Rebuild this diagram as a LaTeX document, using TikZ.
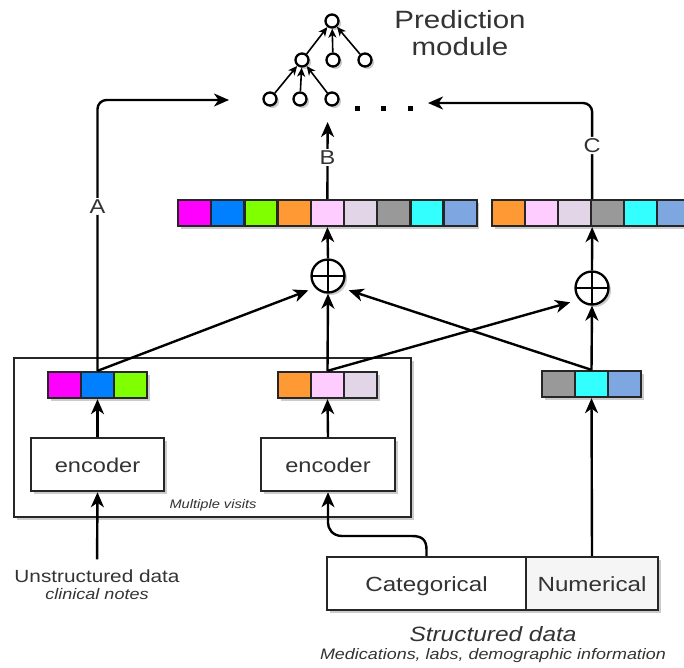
\documentclass[tikz,border=0pt]{standalone}
\usepackage{fontspec}
\setmainfont{Liberation Sans}[FakeStretch=1.18]
\usetikzlibrary{arrows.meta,shadows,calc}
\definecolor{txt}{HTML}{333333}
\definecolor{mag}{HTML}{FF00FF}
\definecolor{blu}{HTML}{007FFF}
\definecolor{grn}{HTML}{80FF00}
\definecolor{org}{HTML}{FF9933}
\definecolor{pnk}{HTML}{FFCCFF}
\definecolor{lav}{HTML}{E1D5E7}
\definecolor{gry}{HTML}{999999}
\definecolor{cyn}{HTML}{33FFFF}
\definecolor{stl}{HTML}{7EA6E0}
\definecolor{numfill}{HTML}{F5F5F5}
\newcommand{\fsz}[1]{\fontsize{#1}{#1}\selectfont}
\begin{document}
\begin{tikzpicture}[x=1pt,y=-1pt]
\useasboundingbox (0,0) rectangle (684,667);
\tikzset{
  shd/.style={general shadow={fill=black, opacity=0.2, shadow xshift=2.5pt, shadow yshift=-2.5pt}},
  cell/.style={draw=black!85, line width=2.3pt, minimum width=33.2pt, minimum height=26pt, inner sep=0pt, shd},
  box/.style={draw=black!85, line width=2.5pt, fill=white, inner sep=0pt, shd, text=txt, text height=15pt, text depth=0pt},
  tc/.style={circle, draw=black, line width=2.3pt, fill=white, minimum size=13pt, inner sep=0pt, shd},
  op/.style={circle, draw=black, line width=2.3pt, minimum size=33pt, inner sep=0pt, fill=white, shd,
    path picture={\draw[line width=2.2pt] (path picture bounding box.north) -- (path picture bounding box.south)
      (path picture bounding box.west) -- (path picture bounding box.east);}},
  arr/.style={-{Stealth[length=15pt,width=13pt,inset=4.5pt]}, line width=2.4pt, draw=black},
  tarr/.style={-{Stealth[length=9pt,width=8pt,inset=2.5pt]}, line width=1.6pt, draw=black},
  lbl/.style={fill=white, inner sep=1.5pt, text=txt, font=\fsz{20}},
  dotsq/.style={fill=black, minimum size=5pt, inner sep=0pt},
  txtn/.style={text=txt, inner sep=1pt, align=center}
}
% Multiple visits frame
\node[box, minimum width=397pt, minimum height=159pt] (mv) at (212.5,437.5) {};
\node[txtn, font=\fsz{12.4}\itshape] (mvl) at (213,505) {Multiple visits};

% Prediction module tree
\node[tc] (r0) at (332,21) {};
\node[tc] (l2a) at (302,60) {};
\node[tc] (l2b) at (333,60) {};
\node[tc] (l2c) at (365,60) {};
\node[tc] (l3a) at (270,99) {};
\node[tc] (l3b) at (300,99) {};
\node[tc] (l3c) at (332,99) {};
\draw[tarr] (l2a) -- (r0);
\draw[tarr] (l2b) -- (r0);
\draw[tarr] (l2c) -- (r0);
\draw[tarr] (l3a) -- (l2a);
\draw[tarr] (l3b) -- (l2a);
\draw[tarr] (l3c) -- (l2a);
\node[dotsq] (d1) at (357,108) {};
\node[dotsq] (d2) at (383,108) {};
\node[dotsq] (d3) at (410,108) {};
\node[txtn, font=\fsz{25}, align=center] (pm) at (460,33) {Prediction\\[2pt]module};
\coordinate (tA) at (229,100);
\coordinate (tB) at (327.6,122);
\coordinate (tC) at (428,103);

% vectors
\foreach \c [count=\i] in {mag,blu,grn,org,pnk,lav,gry,cyn,stl}
  \node[cell, fill=\c] (t\i) at ({178+16.6+33.2*(\i-1)},213) {};
\foreach \c [count=\i] in {org,pnk,lav,gry,cyn,stl}
  \node[cell, fill=\c, minimum width=33pt] (u\i) at ({492+16.5+33*(\i-1)},213) {};
\foreach \c [count=\i] in {mag,blu,grn}
  \node[cell, fill=\c, minimum width=33pt] (L\i) at ({64.5+33*(\i-1)},385) {};
\foreach \c [count=\i] in {org,pnk,lav}
  \node[cell, fill=\c, minimum width=33pt] (M\i) at ({294.5+33*(\i-1)},385) {};
\foreach \c [count=\i] in {gry,cyn,stl}
  \node[cell, fill=\c, minimum width=33pt] (R\i) at ({558.5+33*(\i-1)},384) {};

% oplus
\node[op] (o1) at (328,276) {};
\node[op] (o2) at (592,288) {};

% encoders
\node[box, minimum width=133pt, minimum height=53pt, font=\fsz{20}] (enc1) at (97.5,464.5) {encoder};
\node[box, minimum width=134pt, minimum height=53pt, font=\fsz{20}] (enc2) at (328,464.5) {encoder};

% structured data
\node[box, minimum width=199pt, minimum height=53pt, font=\fsz{20.5}] (cat) at (426.5,583.5) {Categorical};
\node[box, fill=numfill, minimum width=132pt, minimum height=53pt, font=\fsz{20.5}] (num) at (592,583.5) {Numerical};
\node[txtn, font=\fsz{20.7}\itshape] (sd) at (493,634) {Structured data};
\node[txtn, font=\fsz{15.2}\itshape] (med) at (493,656) {Medications, labs, demographic information};

% unstructured data
\node[txtn, font=\fsz{17.6}] (uns) at (97,576) {Unstructured data};
\node[txtn, font=\fsz{15.3}\itshape] (cln) at (97,594) {clinical notes};

% connectors
\draw[arr, shorten <=9pt] (uns.north) -- (enc1.south);
\coordinate (w1) at (412,536);
\coordinate (w2) at (342,536);
\coordinate (w3) at (328,523);
\draw[arr] (cat.north) -- ++(0,-6) .. controls +(0,-10) and +(10,0) .. (w1) -- (w2)
   .. controls +(-10,0) and +(0,5) .. (w3) -- (enc2.south);
\draw[arr] (num.north) -- (R2.south);
\draw[arr] (enc1.north) -- (L2.south);
\draw[arr] (enc2.north) -- (M2.south);

\draw[arr, shorten >=7pt] (L2.north) -- (o1.222);
\draw[arr] (M2.north) -- (o1.south);
\draw[arr, shorten >=9pt] (M2.north) -- (o2.222);
\draw[arr, shorten >=8pt] (R2.north) -- (o1.318);
\draw[arr] (R2.north) -- (o2.south);

\draw[arr] (o1.north) -- (t5.south);
\draw[arr] (o2.north) -- (u3.south east);

\draw[arr, rounded corners=9pt] (L2.north) -- node[lbl, pos=0.607] (la) {A} (L2.north |- tA) -- (tA);
\draw[arr] (t5.north) -- node[lbl, pos=0.54] (lb) {B} (tB);
\draw[arr, rounded corners=9pt] (u3.north east) -- node[lbl, pos=0.557] (lc) {C} (u3.north east |- tC) -- (tC);
\end{tikzpicture}
\end{document}
